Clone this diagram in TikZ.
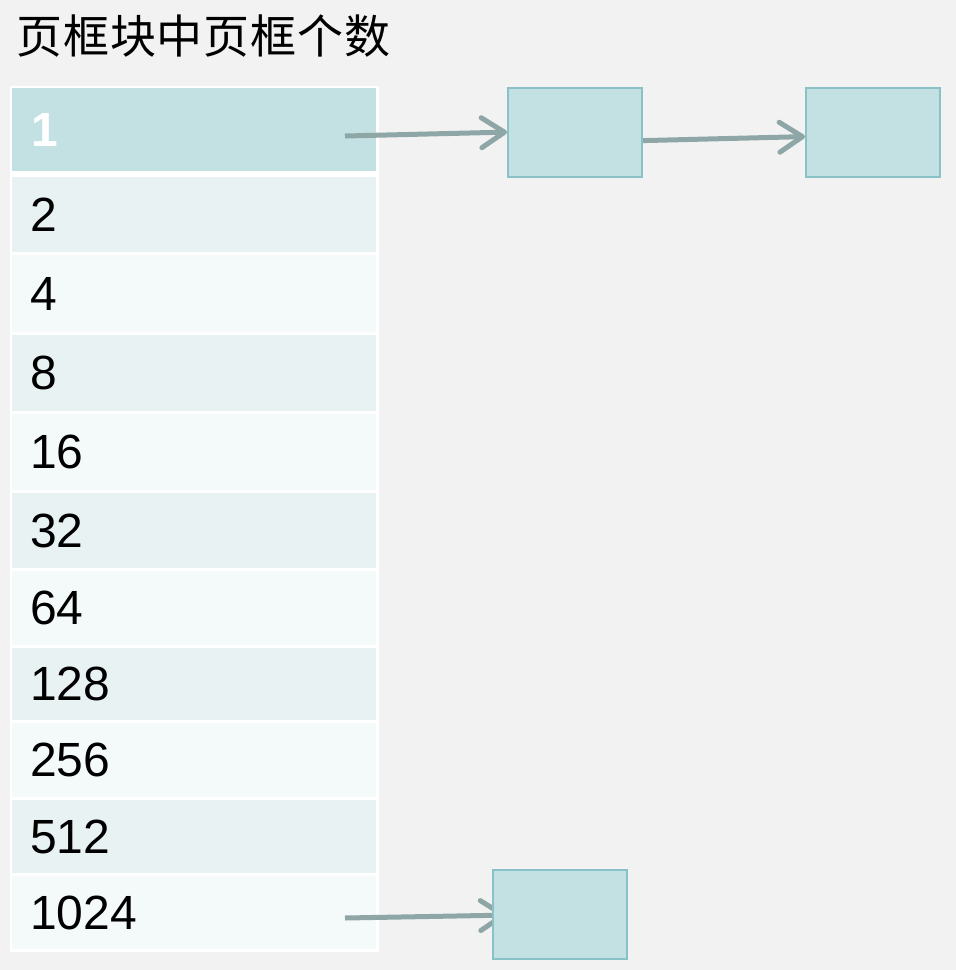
\documentclass[tikz,border=0pt]{standalone}
\usepackage{fontspec}
\setmainfont{Liberation Sans}
\newfontfamily\cjk[LetterSpace=2]{Noto Sans CJK SC}
\usetikzlibrary{arrows.meta,calc}
\definecolor{bgc}{HTML}{F2F2F2}
\definecolor{headc}{HTML}{C3E0E2}
\definecolor{evenc}{HTML}{E9F2F3}
\definecolor{oddc}{HTML}{F4F9F9}
\definecolor{boxline}{HTML}{88C1C6}
\definecolor{arrc}{HTML}{8FA6A7}
\pgfdeclarelayer{back}
\pgfdeclarelayer{front}
\pgfsetlayers{back,main,front}
\tikzset{
  rowbox/.style={draw=none, minimum width=364pt, inner sep=0pt, anchor=north west},
  numtext/.style={anchor=west, inner sep=0pt, font=\fontsize{48}{48}\selectfont},
  listbox/.style={draw=boxline, line width=2.2pt, fill=headc, minimum width=134pt, minimum height=89pt, inner sep=0pt, anchor=north west},
  linkarrow/.style={draw=arrc, line width=5pt, -{Straight Barb[round,length=23pt,width=30pt]}}
}
\begin{document}
\begin{tikzpicture}[x=1pt,y=-1pt]
\begin{pgfonlayer}{back}
\fill[bgc] (0,0) rectangle (956,970);
\end{pgfonlayer}
\useasboundingbox (0,0) rectangle (956,970);
\node[anchor=west, inner sep=0pt, font=\cjk\fontsize{46}{46}\selectfont] (title) at (16,36) {页框块中页框个数};
\node[fill=white, minimum width=369pt, minimum height=866pt, inner sep=0pt, anchor=north west] (frame) at (10,86) {};
% rows
\node[rowbox, fill=headc, minimum height=83pt] (r1) at (12,88) {};
\node[rowbox, fill=evenc, minimum height=75pt] (r2) at (12,177) {};
\node[rowbox, fill=oddc, minimum height=77pt] (r3) at (12,255) {};
\node[rowbox, fill=evenc, minimum height=76pt] (r4) at (12,335) {};
\node[rowbox, fill=oddc, minimum height=76pt] (r5) at (12,414) {};
\node[rowbox, fill=evenc, minimum height=75pt] (r6) at (12,493) {};
\node[rowbox, fill=oddc, minimum height=74pt] (r7) at (12,571) {};
\node[rowbox, fill=evenc, minimum height=72pt] (r8) at (12,648) {};
\node[rowbox, fill=oddc, minimum height=74pt] (r9) at (12,723) {};
\node[rowbox, fill=evenc, minimum height=73pt] (r10) at (12,800) {};
\node[rowbox, fill=oddc, minimum height=73pt] (r11) at (12,876) {};
% labels
\node[numtext, text=white, font=\bfseries\fontsize{48}{48}\selectfont] (t1) at ($(r1.west)+(19,0)$) {1};
\node[numtext] (t2) at ($(r2.west)+(18,0)$) {2};
\node[numtext] (t3) at ($(r3.west)+(18,0)$) {4};
\node[numtext] (t4) at ($(r4.west)+(18,0)$) {8};
\node[numtext] (t5) at ($(r5.west)+(18,0)$) {16};
\node[numtext] (t6) at ($(r6.west)+(18,0)$) {32};
\node[numtext] (t7) at ($(r7.west)+(18,0)$) {64};
\node[numtext] (t8) at ($(r8.west)+(18,0)$) {128};
\node[numtext] (t9) at ($(r9.west)+(18,0)$) {256};
\node[numtext] (t10) at ($(r10.west)+(18,0)$) {512};
\node[numtext] (t11) at ($(r11.west)+(18,0)$) {1024};
% list boxes
\begin{pgfonlayer}{front}
\node[listbox] (a) at (507,87) {};
\node[listbox] (b) at (805,87) {};
\node[listbox] (c) at (492,869) {};
\end{pgfonlayer}
% arrow start points
\coordinate (s1) at (345,136);
\coordinate (s3) at (345,918);
\draw[linkarrow] (s1) -- ($(a.west)+(0,-0.5)$);
\draw[linkarrow] ($(a.east)+(0,8)$) -- ($(b.west)+(0,4)$);
\draw[linkarrow] (s3) -- ($(c.west)+(14,0.5)$);
\end{tikzpicture}
\end{document}
